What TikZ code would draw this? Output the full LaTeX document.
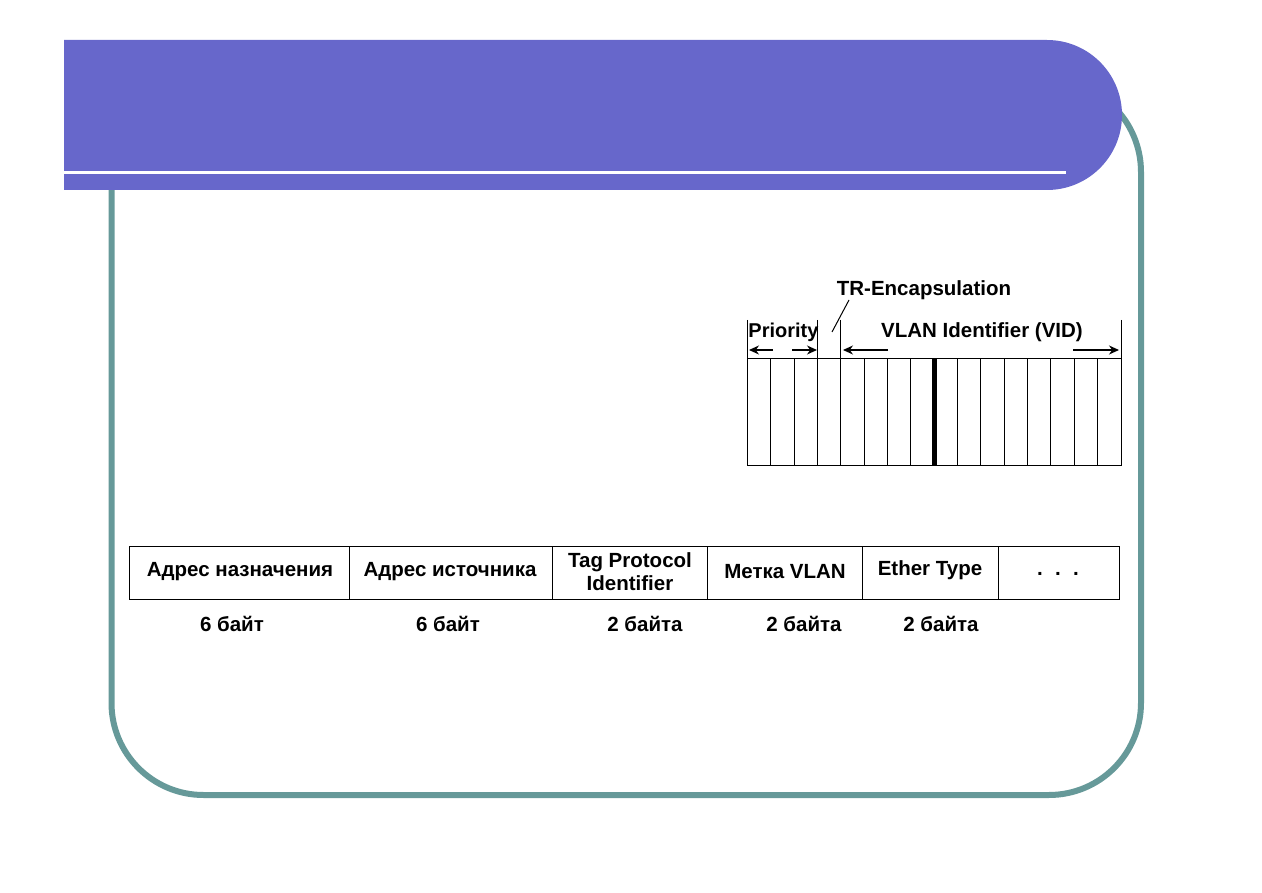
\documentclass[tikz,border=0pt]{standalone}
\usepackage{fontspec}
\setmainfont{Liberation Sans}
\usetikzlibrary{arrows.meta}
\definecolor{banner}{HTML}{6767CB}
\definecolor{frameteal}{HTML}{669999}
\begin{document}
\begin{tikzpicture}[x=1pt,y=-1pt,
  lbl/.style={font=\fontsize{20.5}{23}\selectfont\bfseries, inner sep=0pt, anchor=center, align=center},
  thinline/.style={line width=1pt},
  arr/.style={-{Stealth[length=10pt,width=9pt]}, line width=1.2pt}]
\useasboundingbox (0,0) rectangle (1262,893);
% teal frame
\draw[frameteal, line width=6pt, rounded corners=92pt] (111.5,80) rectangle (1141,795);
% banner
\fill[banner] (64,40) -- (1047,40) arc[start angle=90, end angle=-90, radius=75pt] -- (64,190) -- cycle;
\fill[white] (64,171) rectangle (1066,174.5);

% bit field
\draw[thinline] (747.5,359) rectangle (1121,465);
\foreach \i in {1,...,15}{
  \draw[thinline] ({747.5+\i*23.344},359) -- ({747.5+\i*23.344},465);
}
\draw[line width=4.5pt] ({747.5+8*23.344},359) -- ({747.5+8*23.344},465);
% ticks
\foreach \i in {0,3,4,16}{
  \draw[thinline] ({747.5+\i*23.344},320) -- ({747.5+\i*23.344},359);
}
\node[lbl] (tr) at (924,290) {TR-Encapsulation};
\node[lbl, font=\fontsize{20}{23}\selectfont\bfseries] (prio) at (783.5,332) {Priority};
\node[lbl] (vid) at (982,332) {VLAN Identifier (VID)};
\coordinate (trA) at (849,300);
\coordinate (trB) at (832,332);
\draw[thinline] (trA) -- (trB);
\coordinate (p1) at (773,350); \coordinate (p1t) at (749,350);
\coordinate (p2) at (792,350); \coordinate (p2t) at (817,350);
\coordinate (v1) at (888,350); \coordinate (v1t) at (843,350);
\coordinate (v2) at (1073,350); \coordinate (v2t) at (1119,350);
\draw[arr] (p1) -- (p1t);
\draw[arr] (p2) -- (p2t);
\draw[arr] (v1) -- (v1t);
\draw[arr] (v2) -- (v2t);

% frame fields
\draw[thinline] (129,546) rectangle (1119,599);
\foreach \x in {349,552,707,862,998}{
  \draw[thinline] (\x,546) -- (\x,599);
}
\node[lbl] (f1) at (240,572) {Адрес назначения};
\node[lbl] (f2) at (450,572) {Адрес источника};
\node[lbl] (f3) at (630,572) {Tag Protocol\\Identifier};
\node[lbl] (f4) at (785,572) {Метка VLAN};
\node[lbl] (f5) at (930,570) {Ether Type};
\node[lbl] (f6) at (1058,574) {.\hspace{0.6em}.\hspace{0.6em}.};

\node[lbl] (s1) at (232,624) {6 байт};
\node[lbl] (s2) at (448,624) {6 байт};
\node[lbl] (s3) at (645,624) {2 байта};
\node[lbl] (s4) at (804,624) {2 байта};
\node[lbl] (s5) at (941,624) {2 байта};
\end{tikzpicture}
\end{document}
